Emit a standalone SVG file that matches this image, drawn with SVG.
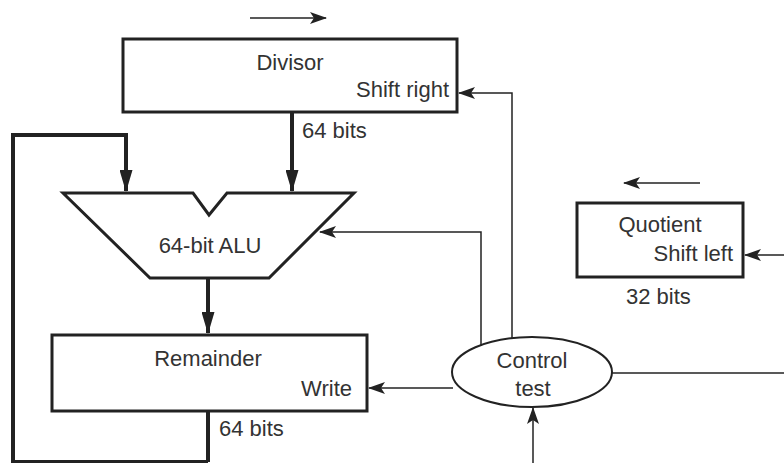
<svg xmlns="http://www.w3.org/2000/svg" width="784" height="463" viewBox="0 0 784 463">
<defs>
<style>
.box{fill:#fff;stroke:#222;stroke-width:3}
.thick{fill:none;stroke:#222;stroke-width:4}
.thin{fill:none;stroke:#222;stroke-width:1.5}
text{font-family:"Liberation Sans",Arial,sans-serif;font-size:22px;fill:#333}
.mid{text-anchor:middle}
.end{text-anchor:end}
</style>
<marker id="ah" markerUnits="userSpaceOnUse" markerWidth="17" markerHeight="12" refX="16" refY="6" orient="auto" viewBox="0 0 17 12">
<path d="M0,0 L17,6 L0,12 L4,6 Z" fill="#222"/>
</marker>
<marker id="ahT" markerUnits="userSpaceOnUse" markerWidth="22" markerHeight="13" refX="21" refY="6.5" orient="auto" viewBox="0 0 22 13">
<path d="M0,0 L22,6.5 L0,13 Z" fill="#222"/>
</marker>
</defs>
<g id="divisor">
<rect class="box" x="123" y="39" width="334" height="73"/>
<text class="mid" x="290" y="70">Divisor</text>
<text class="end" x="449" y="97">Shift right</text>
</g>
<g id="alu">
<path class="box" d="M63,193 L193,193 L209,215 L227,193 L354,193 L269,278 L150,278 Z" stroke-width="2.5"/>
<text class="mid" x="210" y="253">64-bit ALU</text>
</g>
<g id="remainder">
<rect class="box" x="52" y="335" width="315" height="76"/>
<text class="mid" x="208" y="366">Remainder</text>
<text class="end" x="352" y="396">Write</text>
</g>
<g id="quotient">
<rect class="box" x="577" y="203" width="166" height="74"/>
<text class="mid" x="660" y="232">Quotient</text>
<text class="end" x="733" y="261">Shift left</text>
</g>
<g id="control">
<ellipse cx="532" cy="372" rx="80" ry="35" fill="#fff" stroke="#222" stroke-width="2"/>
<text class="mid" x="532" y="368">Control</text>
<text class="mid" x="533" y="396">test</text>
</g>
<g id="labels">
<text x="302" y="138">64 bits</text>
<text x="219" y="436">64 bits</text>
<text x="626" y="304">32 bits</text>
</g>
<g id="connectors">
<line class="thin" x1="250" y1="18" x2="326" y2="18" marker-end="url(#ah)"/>
<line class="thin" x1="700" y1="183" x2="624" y2="183" marker-end="url(#ah)"/>
<line class="thick" x1="292" y1="113" x2="292" y2="191" marker-end="url(#ahT)"/>
<polyline class="thick" points="208,462 13,462 13,135 126,135 126,191" marker-end="url(#ahT)"/>
<line class="thick" x1="208" y1="462" x2="208" y2="412"/>
<line class="thick" x1="208" y1="278" x2="208" y2="333" marker-end="url(#ahT)"/>
<polyline class="thin" points="512,338 512,93 459,93" marker-end="url(#ah)"/>
<polyline class="thin" points="481,346 481,232 320,232" marker-end="url(#ah)"/>
<line class="thin" x1="453" y1="388" x2="369" y2="388" marker-end="url(#ah)"/>
<line class="thin" x1="612" y1="373" x2="784" y2="373"/>
<line class="thin" x1="784" y1="255" x2="745" y2="255" marker-end="url(#ah)"/>
<line class="thin" x1="533" y1="463" x2="533" y2="408" marker-end="url(#ah)"/>
</g>
</svg>
